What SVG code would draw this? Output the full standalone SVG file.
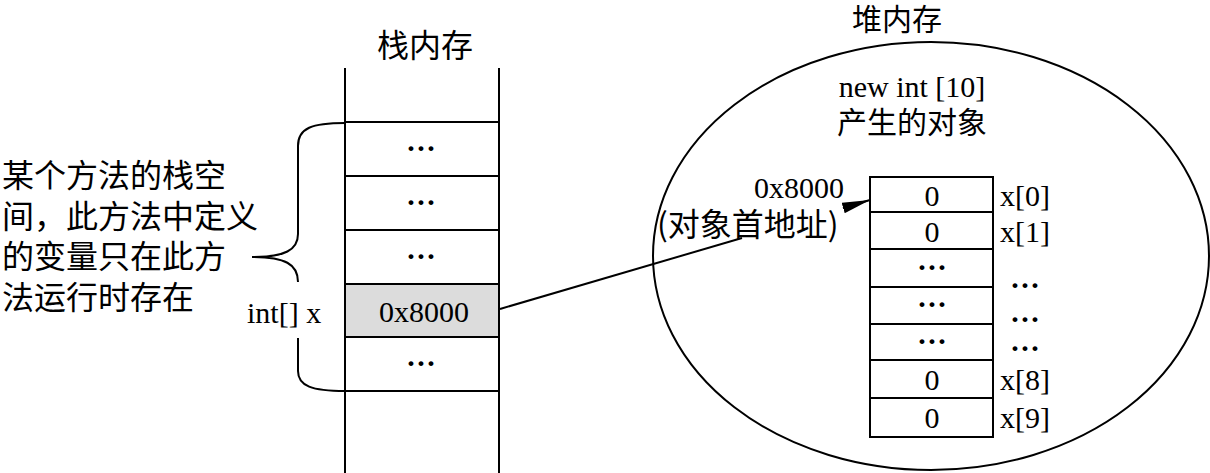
<svg xmlns="http://www.w3.org/2000/svg" width="1210" height="473" viewBox="0 0 1210 473">
<style>
.ln{fill:none;stroke:#000;stroke-width:2}
.cell{fill:#fff;stroke:#000;stroke-width:2}
.t{font-family:"Liberation Serif","Noto Sans CJK SC",serif;font-size:30px;fill:#000}
.cn{font-family:"Noto Sans CJK SC","Liberation Serif",sans-serif;font-size:30px;fill:#000}
.big{font-size:32px}
.dots{font-family:"Liberation Serif",serif;font-size:30px;font-weight:bold;fill:#000;text-anchor:middle}
.mid{text-anchor:middle}
</style>
<defs>
<marker id="ah" viewBox="0 0 28 11" refX="28" refY="5.5" markerWidth="28" markerHeight="11" markerUnits="userSpaceOnUse" orient="auto">
<path d="M0,0 L28,5.5 L0,11 z" fill="#000"/>
</marker>
</defs>
<rect width="1210" height="473" fill="#fff"/>

<g id="stack">
<text class="cn big mid" x="425" y="57">栈内存</text>
<rect x="345" y="284" width="154" height="53" fill="#dcdcdc"/>
<path class="ln" d="M345,68 V473 M499,68 V473 M345,122 H499 M345,176 H499 M345,230 H499 M345,284 H499 M345,337 H499 M345,391 H499"/>
<text class="dots" x="421" y="158">···</text>
<text class="dots" x="421" y="212">···</text>
<text class="dots" x="421" y="266">···</text>
<text class="t mid" x="424" y="322">0x8000</text>
<text class="dots" x="421" y="373">···</text>
</g>

<g id="brace">
<path class="ln" d="M345,123 C312,123 298,128 298,146 L298,234 C298,250 285,257 252,257 M252,257 C285,257 298,264 298,282 M298,338 L298,371 C298,386 312,391 345,391"/>
</g>

<g id="method-note">
<text class="cn big" x="2" y="187">某个方法的栈空</text>
<text class="cn big" x="2" y="228">间，此方法中定义</text>
<text class="cn big" x="2" y="268">的变量只在此方</text>
<text class="cn big" x="2" y="309">法运行时存在</text>
</g>

<g id="var-label">
<text class="t" x="247" y="323">int[] x</text>
</g>

<g id="heap">
<text class="cn mid" x="897" y="30">堆内存</text>
<ellipse class="ln" cx="931" cy="256" rx="278" ry="214"/>
<text class="t mid" x="912" y="97">new int [10]</text>
<text class="cn mid" x="912" y="133">产生的对象</text>
</g>

<g id="array">
<path class="cell" d="M870,177 H993 V437 H870 Z"/>
<path class="ln" d="M870,212 H993 M870,249 H993 M870,287 H993 M870,324 H993 M870,360 H993 M870,398 H993"/>
<text class="t mid" x="932" y="206">0</text>
<text class="t mid" x="932" y="242">0</text>
<text class="dots" x="932" y="277">···</text>
<text class="dots" x="932" y="314">···</text>
<text class="dots" x="932" y="351">···</text>
<text class="t mid" x="932" y="390">0</text>
<text class="t mid" x="932" y="428">0</text>
<text class="t" x="1000" y="206">x[0]</text>
<text class="t" x="1000" y="242">x[1]</text>
<text class="dots" x="1025" y="295">···</text>
<text class="dots" x="1025" y="329">···</text>
<text class="dots" x="1025" y="358">···</text>
<text class="t" x="1000" y="390">x[8]</text>
<text class="t" x="1000" y="428">x[9]</text>
</g>

<g id="address-label">
<text class="t" x="754" y="198">0x8000</text>
<text class="cn big" x="657" y="236">(对象首地址)</text>
</g>

<g id="connectors">
<path class="ln" d="M500,309 L742,238"/>
<path class="ln" d="M843,208 L870,200" marker-end="url(#ah)"/>
</g>
</svg>
